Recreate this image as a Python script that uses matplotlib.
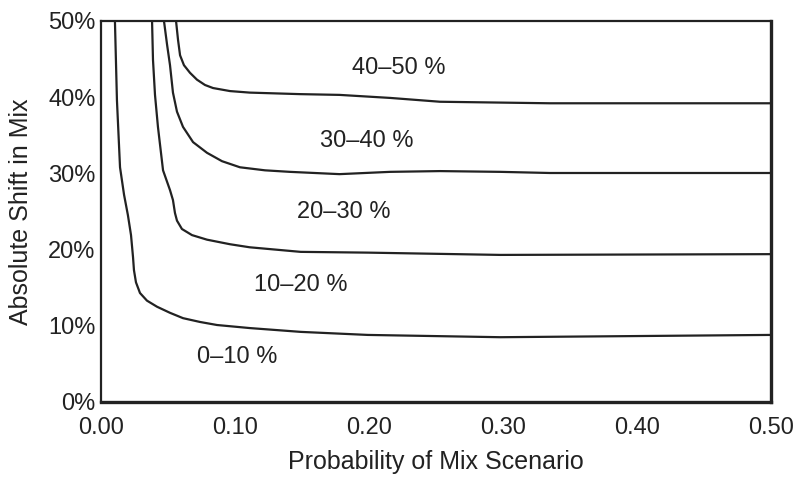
import matplotlib
matplotlib.use("Agg")
import matplotlib.pyplot as plt

plt.rcParams['font.family'] = ['Liberation Sans', 'DejaVu Sans']

# boundary curves (x = probability, y = shift in %)
c1_x = [0.0104, 0.0119, 0.0142, 0.0172, 0.0201, 0.0224, 0.0239, 0.0246, 0.0261, 0.0291, 0.0343, 0.0418,
        0.0515, 0.0612, 0.0739, 0.0866, 0.111, 0.149, 0.199, 0.298, 0.5]
c1_y = [50.0, 39.6, 30.8, 27.2, 24.5, 21.9, 19.0, 17.3, 15.7, 14.3, 13.3, 12.5,
        11.7, 11.0, 10.5, 10.1, 9.7, 9.2, 8.8, 8.5, 8.8]

c2_x = [0.0381, 0.0388, 0.0403, 0.0425, 0.0463, 0.0493, 0.0515, 0.0537, 0.0552, 0.0567, 0.0604, 0.0679,
        0.0791, 0.0963, 0.111, 0.149, 0.199, 0.298, 0.5]
c2_y = [50.0, 44.9, 40.3, 36.1, 30.4, 28.9, 27.8, 26.5, 24.8, 23.8, 22.7, 21.9,
        21.3, 20.7, 20.3, 19.7, 19.6, 19.3, 19.4]

c3_x = [0.047, 0.0493, 0.0515, 0.0537, 0.0567, 0.0612, 0.0687, 0.0791, 0.0903, 0.1037, 0.1224, 0.141,
        0.178, 0.2157, 0.253, 0.298, 0.335, 0.5]
c3_y = [50.0, 46.9, 44.2, 40.6, 38.1, 36.1, 34.1, 32.7, 31.6, 30.8, 30.4, 30.2,
        29.9, 30.2, 30.3, 30.2, 30.05, 30.05]

c4_x = [0.056, 0.0575, 0.059, 0.0619, 0.0664, 0.0716, 0.0776, 0.0836, 0.0963, 0.111, 0.1485, 0.178,
        0.216, 0.253, 0.335, 0.5]
c4_y = [50.0, 47.5, 45.5, 44.2, 43.2, 42.3, 41.6, 41.2, 40.8, 40.6, 40.4, 40.3,
        39.9, 39.4, 39.2, 39.2]

region_labels = ["0\u201310 %", "10\u201320 %", "20\u201330 %", "30\u201340 %", "40\u201350 %"]
label_x = [0.102, 0.149, 0.181, 0.198, 0.222]
label_y = [5.9, 15.4, 24.9, 34.3, 43.8]

xticks = [0.0, 0.1, 0.2, 0.3, 0.4, 0.5]
xtick_labels = ["0.00", "0.10", "0.20", "0.30", "0.40", "0.50"]
yticks = [0, 10, 20, 30, 40, 50]
ytick_labels = ["0%", "10%", "20%", "30%", "40%", "50%"]

fig = plt.figure(figsize=(7.99, 4.79), dpi=100)
ax = fig.add_axes([0.1264, 0.1608, 0.8386, 0.7954])

col = '#222222'
for cx, cy in [(c1_x, c1_y), (c2_x, c2_y), (c3_x, c3_y), (c4_x, c4_y)]:
    ax.plot(cx, cy, color=col, lw=1.6, solid_joinstyle='round', solid_capstyle='round')

for t, lx, ly in zip(region_labels, label_x, label_y):
    ax.text(lx, ly, t, ha='center', va='center', fontsize=17, color=col)

ax.set_xlim(0, 0.5)
ax.set_ylim(0, 50)
ax.set_xticks(xticks)
ax.set_xticklabels(xtick_labels)
ax.set_yticks(yticks)
ax.set_yticklabels(ytick_labels)
ax.tick_params(length=0, labelsize=17, colors=col)
ax.tick_params(axis='x', pad=11)
ax.tick_params(axis='y', pad=4)

for s in ['left', 'top']:
    ax.spines[s].set_linewidth(1.6)
for s in ['right', 'bottom']:
    ax.spines[s].set_linewidth(2.4)
for s in ax.spines.values():
    s.set_color(col)

ax.set_xlabel("Probability of Mix Scenario", fontsize=18, color=col, labelpad=8)
ax.set_ylabel("Absolute Shift in Mix", fontsize=18, color=col, labelpad=11)

fig.savefig("out.png", dpi=100)
